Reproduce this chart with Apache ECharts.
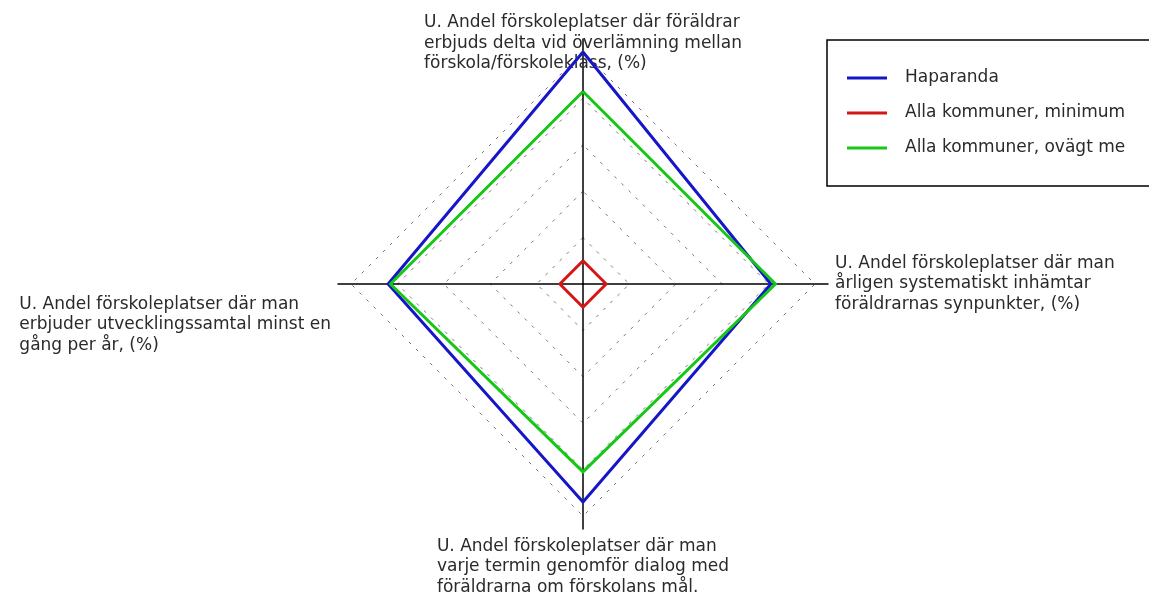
<!DOCTYPE html>
<html>
<head>
<meta charset="utf-8">
<script src="https://cdn.jsdelivr.net/npm/echarts@6/dist/echarts.min.js"></script>
<style>
  html, body { margin: 0; padding: 0; background: #fff; }
  #main { width: 1149px; height: 594px; }
</style>
</head>
<body>
<div id="main"></div>
<script>
    // indicators, in radar order (top, left, bottom, right)
    var indicatorNames = [
        'U. Andel förskoleplatser där föräldrar\nerbjuds delta vid överlämning mellan\nförskola/förskoleklass, (%)',
        'U. Andel förskoleplatser där man\nerbjuder utvecklingssamtal minst en\ngång per år, (%)',
        'U. Andel förskoleplatser där man\nvarje termin genomför dialog med\nföräldrarna om förskolans mål.',
        'U. Andel förskoleplatser där man\nårligen systematiskt inhämtar\nföräldrarnas synpunkter, (%)'
    ];
    var indicatorMax = [100, 100, 100, 100];

    var seriesNames = ['Haparanda', 'Alla kommuner, minimum', 'Alla kommuner, ovägt me'];
    var haparanda = [100, 84, 94, 81];
    var allaMin = [10, 10, 10, 10];
    var allaMedel = [83, 83, 81, 83];
    var seriesColors = ['#1616c8', '#d41616', '#16c816'];

    initRadar();

    function initRadar() {
        var chartDom = document.getElementById('main');
        var myChart = echarts.init(chartDom);

        var indicators = indicatorNames.map(function (n, i) {
            return { name: n, max: indicatorMax[i] };
        });
        var labelFont = {
            fontFamily: 'DejaVu Sans',
            fontSize: 17,
            color: '#2a2a2a',
            rich: {
                a: { align: 'left', lineHeight: 20.5, fontFamily: 'DejaVu Sans', fontSize: 17, color: '#2a2a2a' }
            }
        };
        var center = [583, 284];

        var option = {
            animation: false,
            legend: {
                left: 827,
                top: 40,
                orient: 'vertical',
                padding: [28, 40, 28, 20],
                borderColor: '#000',
                borderWidth: 1.5,
                itemGap: 15,
                itemWidth: 40,
                itemHeight: 3,
                icon: 'rect',
                textStyle: {
                    fontFamily: 'DejaVu Sans',
                    fontSize: 17,
                    lineHeight: 20,
                    color: '#2a2a2a',
                    padding: [0, 0, 0, 13]
                },
                data: seriesNames
            },
            radar: [
                {
                    // grid + side/bottom names
                    center: center,
                    radius: 232,
                    shape: 'polygon',
                    splitNumber: 5,
                    indicator: indicators,
                    nameGap: 20,
                    axisName: Object.assign({
                        formatter: function (name) {
                            var i = indicatorNames.indexOf(name);
                            if (i === 0) return '';
                            var txt = i === 1 ? '\n\n\n\n' + name : name;
                            return '{a|' + txt + '}';
                        }
                    }, labelFont),
                    axisLine: { show: false },
                    splitLine: { lineStyle: { color: '#777', width: 1, type: [3, 7] } },
                    splitArea: { show: false }
                },
                {
                    // axis lines reach past the grid
                    center: center,
                    radius: 245,
                    shape: 'polygon',
                    indicator: indicators,
                    axisName: { show: false },
                    axisLine: { lineStyle: { color: '#000', width: 1.5 } },
                    splitLine: { show: false },
                    splitArea: { show: false }
                },
                {
                    // top name sits over the axis
                    center: center,
                    radius: 192,
                    shape: 'polygon',
                    indicator: indicators,
                    nameGap: 18,
                    axisName: Object.assign({
                        formatter: function (name) {
                            var i = indicatorNames.indexOf(name);
                            return i === 0 ? '{a|' + name + '}' : '';
                        }
                    }, labelFont),
                    axisLine: { show: false },
                    splitLine: { show: false },
                    splitArea: { show: false }
                }
            ],
            series: [
                {
                    type: 'radar',
                    radarIndex: 0,
                    symbol: 'none',
                    data: [
                        { name: seriesNames[0], value: haparanda, lineStyle: { color: seriesColors[0], width: 3 }, itemStyle: { color: seriesColors[0] } },
                        { name: seriesNames[1], value: allaMin, lineStyle: { color: seriesColors[1], width: 3 }, itemStyle: { color: seriesColors[1] } },
                        { name: seriesNames[2], value: allaMedel, lineStyle: { color: seriesColors[2], width: 3 }, itemStyle: { color: seriesColors[2] } }
                    ]
                }
            ]
        };

        option && myChart.setOption(option);
    }
</script>
</body>
</html>
